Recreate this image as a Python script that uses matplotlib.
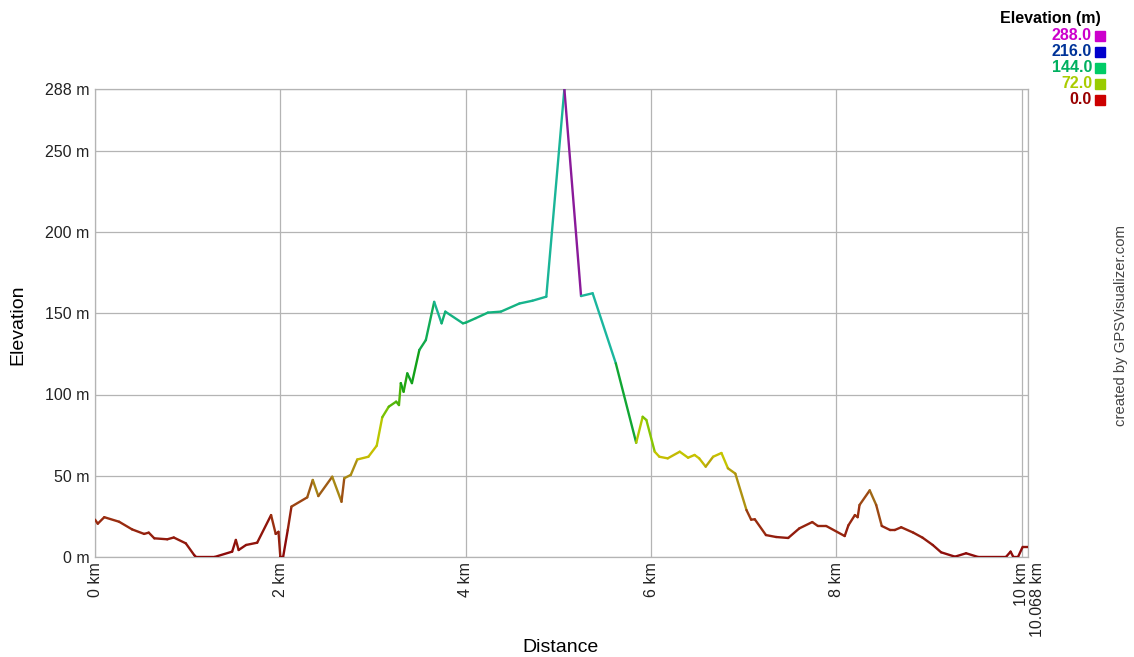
import numpy as np
import matplotlib
matplotlib.use('Agg')
import matplotlib.pyplot as plt
import matplotlib.transforms as mtransforms
from matplotlib.collections import LineCollection
from matplotlib.colors import LinearSegmentedColormap
from matplotlib.patches import Rectangle

plt.rcParams['font.family'] = ['Liberation Sans', 'DejaVu Sans']

# ── データ ────────────────────────────────────────────────────
dist_km = [0.00, 0.03, 0.10, 0.26, 0.40, 0.53, 0.58, 0.64, 0.78, 0.85,
           0.98, 1.07, 1.09, 1.29, 1.48, 1.52, 1.55, 1.63, 1.75, 1.90,
           1.95, 1.98, 2.00, 2.03, 2.08, 2.12, 2.29, 2.35, 2.41, 2.56,
           2.66, 2.69, 2.76, 2.83, 2.95, 3.04, 3.10, 3.17, 3.25, 3.28,
           3.30, 3.33, 3.37, 3.42, 3.50, 3.57, 3.66, 3.74, 3.78, 3.97,
           4.00, 4.11, 4.24, 4.38, 4.58, 4.72, 4.87, 5.065, 5.245, 5.37,
           5.62, 5.84, 5.91, 5.95, 6.04, 6.09, 6.18, 6.31, 6.40, 6.47,
           6.52, 6.59, 6.67, 6.76, 6.83, 6.91, 7.03, 7.08, 7.12, 7.24,
           7.35, 7.48, 7.60, 7.74, 7.80, 7.89, 8.09, 8.13, 8.20, 8.23,
           8.25, 8.36, 8.43, 8.49, 8.58, 8.63, 8.70, 8.83, 8.93, 9.04,
           9.13, 9.28, 9.40, 9.53, 9.83, 9.88, 9.91, 9.96, 10.01, 10.068]
elev_m = [23, 20.5, 24.5, 21.7, 17, 14.2, 15, 11.5, 10.9, 12,
          8.4, 1.2, 0, 0, 3.3, 10.5, 4.3, 7.4, 8.8, 25.8,
          14.2, 15.5, 0, 0, 16.6, 31, 36.7, 47.4, 37.5, 49.4,
          34, 48.5, 50.5, 60, 61.7, 68.5, 86, 92.5, 95.6, 93.5,
          107, 101.7, 113, 107, 127.4, 133.5, 157, 143.8, 151, 143.8,
          144.2, 147, 150.4, 151, 156, 157.7, 160.2, 288, 160.6, 162.3,
          119.2, 70.3, 86.3, 84.3, 64.8, 61.7, 60.7, 64.8, 61.1, 62.8,
          60.7, 55.6, 61.7, 64, 54.6, 51.3, 28.9, 23, 23.2, 13.5,
          12.3, 11.7, 17.6, 21.5, 19.1, 19.1, 12.9, 19.5, 25.8, 24.5,
          32, 41, 32, 19.1, 16.6, 16.6, 18.3, 15, 11.9, 7.4,
          2.9, 0.2, 2.3, 0, 0, 3.3, 0, 0, 6.2, 6.2]

X_TICKS = [0, 2, 4, 6, 8, 10, 10.068]
X_LABELS = ['0 km', '2 km', '4 km', '6 km', '8 km', '10 km', '10.068 km']
Y_TICKS = [0, 50, 100, 150, 200, 250, 288]
Y_LABELS = ['0 m', '50 m', '100 m', '150 m', '200 m', '250 m', '288 m']

LEG_VALUES = ['288.0', '216.0', '144.0', '72.0', '0.0']
LEG_TEXT_COLORS = ['#cc00cc', '#003399', '#00b060', '#aacc00', '#990000']
LEG_BOX_COLORS = ['#cc00cc', '#0000cc', '#00cc66', '#99cc00', '#cc0000']

E_MAX = 288.0

# 線の色: 区間の始点の標高で着色
cmap = LinearSegmentedColormap.from_list('elev', [
    (0.0, '#8c0a0a'),
    (25 / E_MAX, '#9a3010'),
    (45 / E_MAX, '#a07818'),
    (62 / E_MAX, '#c8c400'),
    (80 / E_MAX, '#9acc00'),
    (105 / E_MAX, '#12a012'),
    (144 / E_MAX, '#10b070'),
    (170 / E_MAX, '#20b8b0'),
    (216 / E_MAX, '#1040c0'),
    (1.0, '#8a1a9a'),
])

# ── レイアウト ─────────────────────────────────────────────────────────
W, H = 1134, 657
fig = plt.figure(figsize=(W / 100, H / 100), dpi=100)
ax = fig.add_axes([95 / W, 1 - 557 / H, (1028 - 95) / W, (557 - 89) / H])

x = np.array(dist_km)
y = np.array(elev_m)
segs = np.stack([np.column_stack([x[:-1], y[:-1]]),
                 np.column_stack([x[1:], y[1:]])], axis=1)
lc = LineCollection(segs, colors=cmap(y[:-1] / E_MAX), linewidths=1.7,
                    capstyle='round', joinstyle='round', zorder=3)
ax.add_collection(lc)

ax.set_xlim(0, 10.068)
ax.set_ylim(0, E_MAX)
ax.set_xticks(X_TICKS)
ax.set_xticklabels(X_LABELS, rotation=90, fontsize=11.5)
ax.set_yticks(Y_TICKS)
ax.set_yticklabels(Y_LABELS, fontsize=11.5)
ax.tick_params(length=0, pad=4, colors='#222222')
ax.grid(color='#b4b4b4', lw=0.9)
for sp in ax.spines.values():
    sp.set_color('#b4b4b4')
    sp.set_linewidth(0.9)

# 最後の目盛ラベル (10.068 km) を少し右へずらす
xt = ax.get_xticklabels()
xt[-1].set_transform(xt[-1].get_transform() +
                     mtransforms.ScaledTranslation(0.1, 0, fig.dpi_scale_trans))

fig.text(560 / W, 1 - 648 / H, 'Distance', ha='center', va='center', fontsize=14)
fig.text(18 / W, 1 - 325 / H, 'Elevation', rotation=90, ha='center',
         va='center', fontsize=14)

# 凡例 (右上)
fig.text(1101 / W, 1 - 18 / H, 'Elevation (m)', ha='right', va='center',
         fontsize=11.5, fontweight='bold')
for i, (v, tc, bc) in enumerate(zip(LEG_VALUES, LEG_TEXT_COLORS, LEG_BOX_COLORS)):
    yc = 36 + i * 16
    fig.text(1092 / W, 1 - yc / H, v, ha='right', va='center',
             fontsize=11.5, fontweight='bold', color=tc)
    fig.patches.append(Rectangle((1095 / W, 1 - (yc + 5) / H), 10 / W, 10 / H,
                                 transform=fig.transFigure, color=bc))

fig.text(1121 / W, 1 - 325 / H, 'created by GPSVisualizer.com', rotation=90,
         ha='center', va='center', fontsize=10.7, color='#444444')

fig.savefig('out.png', dpi=100)
